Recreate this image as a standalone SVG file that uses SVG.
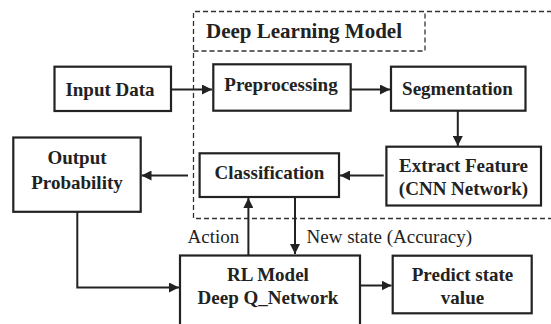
<svg xmlns="http://www.w3.org/2000/svg" width="551" height="324" viewBox="0 0 551 324">
  <style>
    .box { fill: #ffffff; stroke: #222222; stroke-width: 2.2; }
    .dash { fill: none; stroke: #333333; stroke-width: 1.3; stroke-dasharray: 5 3; }
    text { font-family: 'Liberation Serif', 'DejaVu Serif', serif; fill: #222222; }
    .lbl { font-weight: bold; font-size: 19px; text-anchor: middle; }
    .title { font-weight: bold; font-size: 21px; }
    .note { font-size: 19px; }
    .wire { fill: none; stroke: #222222; stroke-width: 2; }
  </style>
  <defs>
    <marker id="arrow" viewBox="0 0 10 10" refX="10" refY="5" markerWidth="5" markerHeight="5" markerUnits="strokeWidth" orient="auto">
      <path d="M0,0 L10,5 L0,10 Z" fill="#222222"/>
    </marker>
  </defs>
  <rect width="551" height="324" fill="#ffffff"/>

  <!-- deep learning model frame -->
  <g id="dl-frame">
    <path class="dash" d="M560,11.5 H193.5 V218.5 H560"/>
    <path class="dash" d="M193.5,51 H425 V11.5"/>
    <text class="title" x="206" y="37.5" font-family="Liberation Serif, serif">Deep Learning Model</text>
  </g>

  <!-- connectors -->
  <g id="connectors">
    <path class="wire" d="M171,89.5 H212" marker-end="url(#arrow)"/>
    <path class="wire" d="M350.7,89.5 H390" marker-end="url(#arrow)"/>
    <path class="wire" d="M457.8,110.7 V146" marker-end="url(#arrow)"/>
    <path class="wire" d="M383.7,175.5 H340" marker-end="url(#arrow)"/>
    <path class="wire" d="M188,175.5 H141.5" marker-end="url(#arrow)"/>
    <path class="wire" d="M77.3,212 V287.5 H179" marker-end="url(#arrow)"/>
    <path class="wire" d="M248.4,255 V198" marker-end="url(#arrow)"/>
    <path class="wire" d="M295,197 V254" marker-end="url(#arrow)"/>
    <path class="wire" d="M360,285.5 H391.5" marker-end="url(#arrow)"/>
    <text class="note" x="187.5" y="242.5">Action</text>
    <text class="note" x="306.5" y="242.5">New state (Accuracy)</text>
  </g>

  <g id="input-data">
    <rect class="box" x="54.5" y="66.7" width="116.5" height="44.3"/>
    <text class="lbl" x="110" y="95.5">Input Data</text>
  </g>

  <g id="preprocessing">
    <rect class="box" x="213.3" y="64.3" width="137.4" height="46.4"/>
    <text class="lbl" x="281" y="91">Preprocessing</text>
  </g>

  <g id="segmentation">
    <rect class="box" x="391" y="66.7" width="134.5" height="44"/>
    <text class="lbl" x="457.5" y="95">Segmentation</text>
  </g>

  <g id="extract-feature">
    <rect class="box" x="386.4" y="146.7" width="154.6" height="58.8"/>
    <text class="lbl" x="463.5" y="172">Extract Feature</text>
    <text class="lbl" x="463.5" y="195">(CNN Network)</text>
  </g>

  <g id="classification">
    <rect class="box" x="199.6" y="153.3" width="139.4" height="43.7"/>
    <text class="lbl" x="269.5" y="179">Classification</text>
  </g>

  <g id="output-probability">
    <rect class="box" x="13.3" y="137.5" width="127.4" height="74.3"/>
    <text class="lbl" x="77" y="163.5">Output</text>
    <text class="lbl" x="77" y="188.5">Probability</text>
  </g>

  <g id="rl-model">
    <rect class="box" x="180" y="255.5" width="180" height="80"/>
    <text class="lbl" x="268" y="280.5">RL Model</text>
    <text class="lbl" x="268" y="304">Deep Q_Network</text>
  </g>

  <g id="predict-state">
    <rect class="box" x="392.7" y="255.7" width="139" height="57.6"/>
    <text class="lbl" x="462.5" y="280.5">Predict state</text>
    <text class="lbl" x="462.5" y="304">value</text>
  </g>
</svg>
